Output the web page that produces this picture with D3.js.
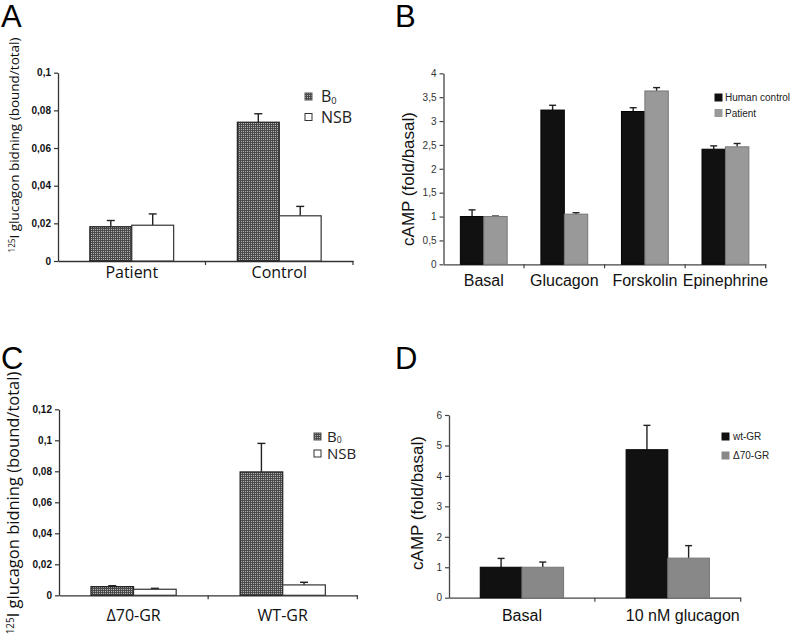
<!DOCTYPE html>
<html><head><meta charset="utf-8">
<script src="https://cdn.jsdelivr.net/npm/d3@7"></script>
<style>body{margin:0;background:#fff}svg{display:block}</style>
</head><body>
<svg id="c" width="793" height="641"></svg>
<script>
// Panel A
const catsA = ["Patient", "Control"];
const b0A = [0.0182, 0.0737];
const b0ErrA = [0.0033, 0.0045];
const nsbA = [0.019, 0.024];
const nsbErrA = [0.006, 0.005];
const ticksA = [0, 0.02, 0.04, 0.06, 0.08, 0.1];
const tickLabelsA = ["0", "0,02", "0,04", "0,06", "0,08", "0,1"];
// Panel B
const catsB = ["Basal", "Glucagon", "Forskolin", "Epinephrine"];
const controlB = [1.0, 3.23, 3.2, 2.41];
const controlErrB = [0.14, 0.10, 0.08, 0.07];
const patientB = [1.0, 1.05, 3.63, 2.46];
const patientErrB = [0.01, 0.03, 0.07, 0.07];
const ticksB = [0, 0.5, 1, 1.5, 2, 2.5, 3, 3.5, 4];
const tickLabelsB = ["0", "0,5", "1", "1,5", "2", "2,5", "3", "3,5", "4"];
// Panel C
const catsC = ["Δ70-GR", "WT-GR"];
const b0C = [0.0056, 0.0796];
const b0ErrC = [0.0006, 0.0184];
const nsbC = [0.0039, 0.0067];
const nsbErrC = [0.0006, 0.0017];
const ticksC = [0, 0.02, 0.04, 0.06, 0.08, 0.1, 0.12];
const tickLabelsC = ["0", "0,02", "0,04", "0,06", "0,08", "0,1", "0,12"];
// Panel D
const catsD = ["Basal", "10 nM glucagon"];
const wtD = [1.0, 4.86];
const wtErrD = [0.29, 0.80];
const d70D = [1.0, 1.30];
const d70ErrD = [0.17, 0.41];
const ticksD = [0, 1, 2, 3, 4, 5, 6];
const tickLabelsD = ["0", "1", "2", "3", "4", "5", "6"];

const svg = d3.select("#c");
const defs = svg.append("defs");
const pat = defs.append("pattern").attr("id", "dots").attr("patternUnits", "userSpaceOnUse")
  .attr("width", 2).attr("height", 2);
pat.append("rect").attr("width", 2).attr("height", 2).attr("fill", "#4a4a4a");
pat.append("rect").attr("x", 1).attr("y", 1).attr("width", 1).attr("height", 1).attr("fill", "#b4b4b4");

function panel(o) {
  const g = svg.append("g");
  const x = d3.scaleBand().domain(o.cats).range([o.x0, o.x1]).padding(0);
  const y = d3.scaleLinear().domain([0, o.ymax]).range([o.y0, o.yTop]);
  const sub = d3.scaleBand().domain([0, 1]).range([0, x.bandwidth()]).paddingInner(0).paddingOuter(o.pad);
  // y axis
  const ya = d3.axisLeft(y).tickValues(o.ticks).tickFormat((d, i) => o.tickLabels[i]).tickSize(4).tickSizeOuter(0);
  const yg = g.append("g").attr("transform", `translate(${o.x0},0)`).call(ya);
  yg.select(".domain").attr("stroke", o.axisColor).attr("stroke-width", 1.3);
  yg.selectAll(".tick line").attr("stroke", o.axisColor).attr("stroke-width", 1.2);
  yg.selectAll(".tick text").attr("font-family", "Liberation Sans, Arial, sans-serif")
    .attr("font-size", o.tickFont).attr("font-weight", o.tickBold ? "bold" : "normal").attr("fill", o.tickColor).attr("x", -7);
  // x axis
  const xa = d3.axisBottom(x).tickSize(0).tickSizeOuter(0);
  const xg = g.append("g").attr("transform", `translate(0,${o.y0})`).call(xa);
  xg.select(".domain").attr("stroke", o.axisColor).attr("stroke-width", 1.3);
  xg.selectAll(".tick text").attr("font-family", o.catFamily).attr("font-size", o.catFont).attr("fill", "#111")
    .attr("dy", o.catDy).attr("dx", (d, i) => (o.catDx ? o.catDx[i] : 0));
  // separator ticks between categories
  g.selectAll(".sep").data(o.cats.slice(1)).enter().append("line")
    .attr("x1", d => x(d)).attr("x2", d => x(d)).attr("y1", o.y0).attr("y2", o.y0 + 4)
    .attr("stroke", o.axisColor).attr("stroke-width", 1.2);
  g.append("line").attr("x1", o.x1).attr("x2", o.x1).attr("y1", o.y0).attr("y2", o.y0 + 4).attr("stroke", o.axisColor).attr("stroke-width", 1.2);
  // bars
  o.series.forEach((s, si) => {
    const bx = d => x(d) + sub(si);
    g.selectAll(null).data(o.cats).enter().append("line")
      .attr("x1", d => bx(d) + sub.bandwidth() / 2).attr("x2", d => bx(d) + sub.bandwidth() / 2)
      .attr("y1", (d, i) => y(s.vals[i])).attr("y2", (d, i) => y(s.vals[i] + s.errs[i]))
      .attr("stroke", "#222").attr("stroke-width", 1.4);
    g.selectAll(null).data(o.cats).enter().append("line")
      .attr("x1", d => bx(d) + sub.bandwidth() / 2 - o.cap).attr("x2", d => bx(d) + sub.bandwidth() / 2 + o.cap)
      .attr("y1", (d, i) => y(s.vals[i] + s.errs[i])).attr("y2", (d, i) => y(s.vals[i] + s.errs[i]))
      .attr("stroke", "#222").attr("stroke-width", 1.4);
    g.selectAll(null).data(o.cats).enter().append("rect")
      .attr("x", d => bx(d)).attr("width", sub.bandwidth())
      .attr("y", (d, i) => y(s.vals[i])).attr("height", (d, i) => o.y0 - y(s.vals[i]))
      .attr("fill", s.fill).attr("stroke", s.stroke).attr("stroke-width", s.sw);
  });
  // legend
  o.series.forEach((s, si) => {
    const ly = o.legY + si * o.legGap;
    g.append("rect").attr("x", o.legX).attr("y", ly - o.legBox / 2).attr("width", o.legBox).attr("height", o.legBox)
      .attr("fill", s.fill).attr("stroke", s.legStroke).attr("stroke-width", 1);
    const t = g.append("text").attr("x", o.legX + o.legBox + o.legTextGap).attr("y", ly).attr("dy", "0.35em")
      .attr("font-family", o.legFamily).attr("font-size", o.legFont).attr("fill", "#222");
    if (s.sub) {
      t.append("tspan").text(s.name);
      t.append("tspan").text(s.sub).attr("font-size", o.legFont * 0.58).attr("dy", "0.2em");
    } else t.text(s.name);
  });
  // y title
  const tt = g.append("text").attr("transform", `translate(${o.titleX},${o.titleY}) rotate(-90)`)
    .attr("text-anchor", "middle").attr("font-family", o.titleFamily).attr("font-size", o.titleFont).attr("fill", "#111");
  if (o.titleSup) {
    tt.append("tspan").text(o.titleSup).attr("font-size", o.titleFont * 0.6).attr("dy", "-0.55em");
    tt.append("tspan").text(o.title).attr("dy", "0.35em");
  } else tt.text(o.title);
  // panel letter
  svg.append("text").attr("x", o.letterX).attr("y", o.letterY).attr("font-family", "Liberation Sans, Arial, sans-serif")
    .attr("font-size", 31).attr("fill", "#000").text(o.letter);
}

const humanist = "Open Sans, Noto Sans, sans-serif";
const arial = "Liberation Sans, Arial, sans-serif";

panel({
  letter: "A", letterX: 1, letterY: 27,
  cats: catsA, x0: 58, x1: 353, y0: 261, yTop: 72.7, ymax: 0.1, pad: 0.76,
  ticks: ticksA, tickLabels: tickLabelsA, tickFont: 10, tickBold: true, tickColor: "#111", axisColor: "#333",
  catFamily: humanist, catFont: 16, catDy: "0.9em",
  series: [
    { name: "B", sub: "0", vals: b0A, errs: b0ErrA, fill: "url(#dots)", stroke: "#222", sw: 1.2, legStroke: "#555" },
    { name: "NSB", vals: nsbA, errs: nsbErrA, fill: "#fff", stroke: "#333", sw: 1.2, legStroke: "#333" }
  ],
  cap: 4, legX: 305, legY: 96.5, legGap: 20.5, legBox: 7, legTextGap: 9, legFamily: humanist, legFont: 16,
  title: "I glucagon bidning (bound/total)", titleSup: "125", titleX: 19, titleY: 145, titleFont: 13.5, titleFamily: humanist
});

panel({
  letter: "B", letterX: 395, letterY: 27,
  cats: catsB, x0: 443.5, x1: 765.7, y0: 264.3, yTop: 73.3, ymax: 4, pad: 0.72,
  ticks: ticksB, tickLabels: tickLabelsB, tickFont: 10, tickBold: false, tickColor: "#333", axisColor: "#444",
  catFamily: arial, catFont: 16, catDy: "1.2em",
  series: [
    { name: "Human control", vals: controlB, errs: controlErrB, fill: "#111", stroke: "#000", sw: 1, legStroke: "#111" },
    { name: "Patient", vals: patientB, errs: patientErrB, fill: "#999", stroke: "#777", sw: 1, legStroke: "#999" }
  ],
  cap: 3.5, legX: 715, legY: 97.5, legGap: 15.5, legBox: 7, legTextGap: 3, legFamily: arial, legFont: 10,
  title: "cAMP (fold/basal)", titleX: 414, titleY: 179, titleFont: 17, titleFamily: arial
});

panel({
  letter: "C", letterX: 1, letterY: 369,
  cats: catsC, x0: 59, x1: 357.3, y0: 595.3, yTop: 409.3, ymax: 0.12, pad: 0.75,
  ticks: ticksC, tickLabels: tickLabelsC, tickFont: 10, tickBold: true, tickColor: "#111", axisColor: "#333",
  catFamily: humanist, catFont: 16, catDy: "1.45em",
  series: [
    { name: "B", sub: "0", vals: b0C, errs: b0ErrC, fill: "url(#dots)", stroke: "#222", sw: 1.2, legStroke: "#555" },
    { name: "NSB", vals: nsbC, errs: nsbErrC, fill: "#fff", stroke: "#333", sw: 1.2, legStroke: "#333" }
  ],
  cap: 4, legX: 314, legY: 436.5, legGap: 17, legBox: 7, legTextGap: 6, legFamily: humanist, legFont: 15,
  title: "I glucagon bidning (bound/total)", titleSup: "125", titleX: 19, titleY: 503, titleFont: 16.5, titleFamily: humanist
});

panel({
  letter: "D", letterX: 395, letterY: 369,
  cats: catsD, x0: 449, x1: 740.7, y0: 597.7, yTop: 415, ymax: 6, pad: 0.75,
  ticks: ticksD, tickLabels: tickLabelsD, tickFont: 10, tickBold: false, tickColor: "#333", axisColor: "#444",
  catFamily: arial, catFont: 16, catDy: "1.3em", catDx: [0, 15],
  series: [
    { name: "wt-GR", vals: wtD, errs: wtErrD, fill: "#111", stroke: "#000", sw: 1, legStroke: "#111" },
    { name: "Δ70-GR", vals: d70D, errs: d70ErrD, fill: "#888", stroke: "#777", sw: 1, legStroke: "#888" }
  ],
  cap: 3.5, legX: 722, legY: 436.5, legGap: 19, legBox: 7, legTextGap: 4, legFamily: arial, legFont: 10,
  title: "cAMP (fold/basal)", titleX: 423, titleY: 503, titleFont: 17, titleFamily: arial
});
</script>
</body></html>
